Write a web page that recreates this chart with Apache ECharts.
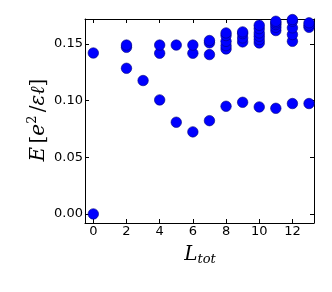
<!DOCTYPE html>
<html><head><meta charset="utf-8">
<script src="https://cdn.jsdelivr.net/npm/echarts@6/dist/echarts.min.js"></script>
<style>html,body{margin:0;padding:0;background:#fff}#c{width:332px;height:292px}</style>
</head><body><div id="c"></div>
<script>
const xTicks = [0, 2, 4, 6, 8, 10, 12];
const yTicks = [0, 0.05, 0.10, 0.15];
const lTot = [0, 0,
  2, 2, 2,
  3,
  4, 4, 4,
  5, 5,
  6, 6, 6,
  7, 7, 7, 7,
  8, 8, 8, 8, 8, 8,
  9, 9, 9, 9, 9,
  10, 10, 10, 10, 10, 10, 10,
  11, 11, 11, 11, 11, 11,
  12, 12, 12, 12, 12, 12,
  13, 13, 13, 13];
const energy = [0.000, 0.142,
  0.1285, 0.147, 0.149,
  0.1177,
  0.1006, 0.1418, 0.149,
  0.0809, 0.149,
  0.0724, 0.1418, 0.149,
  0.0823, 0.1406, 0.151, 0.153,
  0.095, 0.1456, 0.1485, 0.1523, 0.1574, 0.1597,
  0.0985, 0.1518, 0.1553, 0.1591, 0.1606,
  0.0944, 0.1509, 0.1538, 0.1568, 0.1597, 0.1635, 0.1665,
  0.0932, 0.1618, 0.1647, 0.1671, 0.1686, 0.170,
  0.0974, 0.1523, 0.1583, 0.1642, 0.170, 0.1715,
  0.0974, 0.1647, 0.1665, 0.1686];

const chart = echarts.init(document.getElementById('c'), null, {renderer: 'canvas'});
const axisLine = {show: true, onZero: false, lineStyle: {color: '#000', width: 1}};
const tickStyle = {inside: true, length: 4, lineStyle: {color: '#000', width: 1}};
const font = 'DejaVu Sans';
chart.setOption({
  animation: false,
  grid: {left: 85, top: 19, right: 18, bottom: 69, containLabel: false},
  xAxis: [
    {type: 'value', min: -0.5, max: 13.3, position: 'bottom', splitLine: {show: false}, axisLine,
     axisTick: Object.assign({customValues: xTicks}, tickStyle),
     axisLabel: {customValues: xTicks, color: '#000', fontFamily: font, fontSize: 13, margin: 2}},
    {type: 'value', min: -0.5, max: 13.3, position: 'top', splitLine: {show: false}, axisLine,
     axisTick: Object.assign({customValues: xTicks}, tickStyle), axisLabel: {show: false}}
  ],
  yAxis: [
    {type: 'value', min: -0.008, max: 0.172, position: 'left', splitLine: {show: false}, axisLine,
     axisTick: Object.assign({customValues: yTicks}, tickStyle),
     axisLabel: {customValues: yTicks, color: '#000', fontFamily: font, fontSize: 13, margin: 2,
       formatter: v => v.toFixed(2)}},
    {type: 'value', min: -0.008, max: 0.172, position: 'right', splitLine: {show: false}, axisLine,
     axisTick: Object.assign({customValues: yTicks}, tickStyle), axisLabel: {show: false}}
  ],
  series: [{
    type: 'scatter', xAxisIndex: 0, yAxisIndex: 0,
    data: lTot.map((l, i) => [l, energy[i]]),
    symbolSize: 10.5, clip: true,
    itemStyle: {color: '#0000ff', borderColor: '#00007a', borderWidth: 0.6, opacity: 1}
  }],
  graphic: [
    {type: 'text', x: 39, y: 120, rotation: Math.PI / 2,
     style: {
       text: '{i|E} {n|[}{i|e}{s|2} {n|/}{i|εℓ}{n|]}',
       align: 'center', verticalAlign: 'middle',
       rich: {
         i: {fontFamily: 'DejaVu Serif', fontStyle: 'italic', fontSize: 20, fill: '#000'},
         n: {fontFamily: 'DejaVu Serif', fontSize: 20, fill: '#000'},
         s: {fontFamily: 'DejaVu Serif', fontSize: 13, fill: '#000', verticalAlign: 'top', padding: [0,0,12,0]}
       }
     }},
    {type: 'text', x: 200, y: 255,
     style: {
       text: '{i|L}{s|tot}',
       align: 'center', verticalAlign: 'middle',
       rich: {
         i: {fontFamily: 'DejaVu Serif', fontStyle: 'italic', fontSize: 20, fill: '#000'},
         s: {fontFamily: 'DejaVu Serif', fontStyle: 'italic', fontSize: 13, fill: '#000', padding: [9,0,0,0]}
       }
     }}
  ]
});
</script></body></html>
